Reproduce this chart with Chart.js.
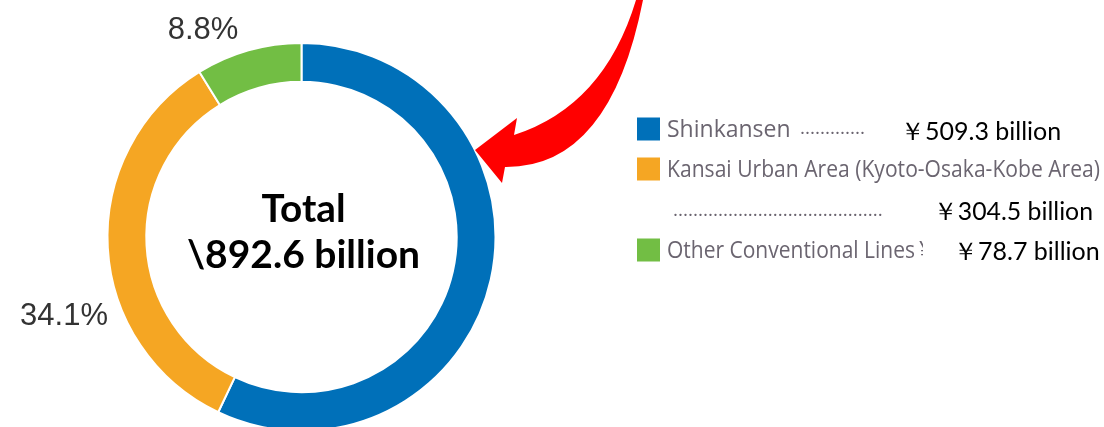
<!DOCTYPE html>
<html>
<head>
<meta charset="utf-8">
<script src="https://cdn.jsdelivr.net/npm/chart.js@4/dist/chart.umd.min.js"></script>
<style>
  html, body { margin: 0; padding: 0; background: #ffffff; }
  #wrap { width: 1104px; height: 427px; position: relative; }
  canvas { display: block; }
</style>
</head>
<body>
<div id="wrap"><canvas id="c" width="1104" height="427"></canvas></div>
<script>
// ---- data ----
const categories = ["Shinkansen", "Kansai Urban Area (Kyoto-Osaka-Kobe Area)", "Other Conventional Lines"];
const values = [509.3, 304.5, 78.7];
const valueLabels = ["\uFFE5509.3 billion", "\uFFE5304.5 billion", "\uFFE578.7 billion"];
const colors = ["#0070B9", "#F5A623", "#72BE44"];
const centerLines = ["Total", "\\892.6 billion"];

const total = values.reduce((a, b) => a + b, 0);
const pct = values.map(v => (v / total * 100).toFixed(1) + "%");

const overlay = {
  id: 'overlay',
  afterDraw(chart) {
    const ctx = chart.ctx;
    const meta = chart.getDatasetMeta(0);
    const arc = meta.data[0];
    const cx = arc.x;
    ctx.save();

    // center text
    ctx.fillStyle = '#000000';
    ctx.textAlign = 'center';
    ctx.textBaseline = 'alphabetic';
    ctx.font = 'bold 39px Lato, "Open Sans", sans-serif';
    ctx.fillText(centerLines[0], cx + 2, 222, 84);
    ctx.fillText(centerLines[1], cx + 2, 268, 234);

    // percentage labels
    ctx.fillStyle = '#333333';
    ctx.font = '31px "Liberation Sans", Arial, sans-serif';
    ctx.textBaseline = 'middle';
    ctx.fillText(pct[2], 203, 30, 76);
    ctx.fillText(pct[1], 64, 316, 94);

    // legend
    const sq = 23, sx = 637;
    const rowY = [129, 169, 250];
    ctx.textAlign = 'left';
    ctx.textBaseline = 'middle';
    for (let i = 0; i < categories.length; i++) {
      ctx.fillStyle = colors[i];
      ctx.fillRect(sx, rowY[i] - sq / 2, sq, sq);
    }
    ctx.fillStyle = '#6b6570';
    ctx.font = '23px "Open Sans", sans-serif';
    ctx.fillText(categories[0], 667, rowY[0] + 1, 126);
    ctx.fillText(categories[1], 667, rowY[1] + 1, 433);
    ctx.fillText(categories[2], 667, rowY[2] + 1, 248);
    ctx.font = '19px "Open Sans", sans-serif';
    ctx.fillText('.............', 800, rowY[0], 76);
    ctx.fillText('..........................................', 673, 211, 235);
    // clipped yen glyph
    ctx.save();
    ctx.beginPath();
    ctx.rect(918, rowY[2] - 15, 5, 30);
    ctx.clip();
    ctx.font = '23px "Open Sans", sans-serif';
    ctx.fillText('\u00A5', 919, rowY[2] + 1);
    ctx.restore();

    ctx.fillStyle = '#000000';
    ctx.font = '25px Lato, "Open Sans", sans-serif';
    ctx.fillText(valueLabels[0], 900, 132, 162);
    ctx.fillText(valueLabels[1], 933, 212, 160);
    ctx.fillText(valueLabels[2], 953, 252, 147);

    // red curved arrow annotation
    ctx.fillStyle = '#FF0000';
    ctx.beginPath();
    ctx.moveTo(636, 0);
    ctx.quadraticCurveTo(604, 106, 514, 135);
    ctx.lineTo(517, 118);
    ctx.lineTo(475, 150);
    ctx.lineTo(502, 183);
    ctx.lineTo(505, 167);
    ctx.quadraticCurveTo(610, 168, 643, 0);
    ctx.closePath();
    ctx.fill();

    ctx.restore();
  }
};

new Chart(document.getElementById('c'), {
  type: 'doughnut',
  data: {
    labels: categories,
    datasets: [{
      data: values,
      backgroundColor: colors,
      borderColor: '#ffffff',
      borderWidth: 2,
      hoverOffset: 0
    }]
  },
  options: {
    responsive: false,
    animation: false,
    cutout: '80%',
    radius: 194,
    layout: { padding: { left: 0, right: 501, top: 47, bottom: 0 } },
    plugins: { legend: { display: false }, tooltip: { enabled: false } }
  },
  plugins: [overlay]
});
</script>
</body>
</html>
